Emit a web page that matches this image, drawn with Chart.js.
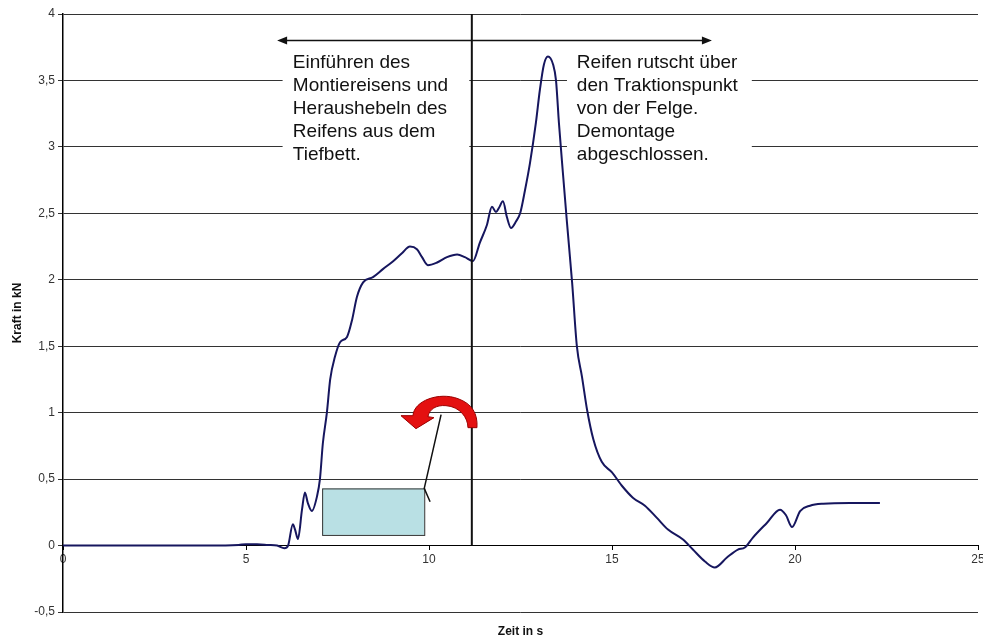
<!DOCTYPE html>
<html>
<head>
<meta charset="utf-8">
<script src="https://cdn.jsdelivr.net/npm/chart.js@4.4.1/dist/chart.umd.min.js"></script>
<style>
    html, body { margin: 0; padding: 0; background: #fff; }
</style>
</head>
<body>
<canvas id="myChart" width="983" height="644"></canvas>
<script>
// Messkurve: Zeit in s / Kraft in kN
const zeit = [0, 1, 2, 3, 4, 4.8, 5.0, 5.3, 5.6, 5.85, 6.05, 6.15, 6.28, 6.34, 6.42, 6.53, 6.61, 6.69, 6.80, 6.94,
    7.02, 7.10, 7.21, 7.30, 7.43, 7.57, 7.76, 7.90, 8.03, 8.20, 8.47, 8.74, 9.02, 9.26, 9.48, 9.67, 9.81, 9.97,
    10.22, 10.49, 10.77, 10.98, 11.20, 11.39, 11.58, 11.72, 11.83, 11.91, 12.02, 12.13, 12.24, 12.38, 12.49,
    12.62, 12.76, 12.92, 13.03, 13.14, 13.25, 13.39, 13.47, 13.55, 13.66, 13.77, 13.91, 14.04, 14.18, 14.32,
    14.49, 14.72, 15.00, 15.27, 15.57, 15.90, 16.22, 16.53, 16.94, 17.21, 17.54, 17.81, 18.14, 18.44, 18.63,
    18.85, 19.23, 19.59, 19.75, 19.92, 20.14, 20.41, 20.77, 21.5, 22.32];
const kraft = [0, 0, 0, 0, 0, 0.005, 0.01, 0.01, 0.005, 0, -0.02, 0.0, 0.16, 0.12, 0.05, 0.27, 0.40, 0.32, 0.26, 0.37,
    0.50, 0.77, 1.00, 1.25, 1.42, 1.53, 1.57, 1.70, 1.87, 1.98, 2.02, 2.08, 2.14, 2.20, 2.25, 2.23, 2.17, 2.11,
    2.13, 2.17, 2.19, 2.17, 2.14, 2.28, 2.41, 2.55, 2.51, 2.54, 2.59, 2.47, 2.39, 2.44, 2.50,
    2.67, 2.88, 3.18, 3.43, 3.62, 3.68, 3.62, 3.50, 3.18, 2.80, 2.43, 1.98, 1.50, 1.27, 1.02,
    0.80, 0.63, 0.55, 0.45, 0.36, 0.30, 0.21, 0.12, 0.045, -0.03, -0.12, -0.165, -0.09, -0.03, -0.015,
    0.06, 0.17, 0.27, 0.23, 0.14, 0.26, 0.30, 0.315, 0.32, 0.32];

const xTicks = [0, 5, 10, 15, 20, 25];
const yTicks = [-0.5, 0, 0.5, 1, 1.5, 2, 2.5, 3, 3.5, 4];

const textLinks = ['Einführen des', 'Montiereisens und', 'Heraushebeln des', 'Reifens aus dem', 'Tiefbett.'];
const textRechts = ['Reifen rutscht über', 'den Traktionspunkt', 'von der Felge.', 'Demontage', 'abgeschlossen.'];

// Annotationen in Datenkoordinaten
const trennZeit = 11.17;
const pfeil = { von: 5.85, bis: 17.73, kraft: 3.80 };
const boxLinks = { x0: 6.0, x1: 11.1, y0: 3.86, y1: 2.9, textX: 6.28 };
const boxRechts = { x0: 13.77, x1: 18.82, y0: 3.86, y1: 2.9, textX: 14.04 };
const textBaseline = 3.594;
const blauBox = { x0: 7.08, x1: 9.87, y0: 0.43, y1: 0.08 };
const zeiger = { x: 10.33, y: 0.985, hx: 10.03, hy: 0.33 };
const rotPfeil = { x: 10.60, y: 1.0 };

const FONT = '"Liberation Sans", Arial, sans-serif';

function fmt(v) {
    return String(v).replace('.', ',');
}

const overlay = {
    id: 'overlay',
    beforeDatasetsDraw(chart) {
        const { ctx, scales: { x, y } } = chart;
        ctx.save();
        // weisse Textfelder
        [boxLinks, boxRechts].forEach(b => {
            ctx.fillStyle = '#fff';
            ctx.fillRect(x.getPixelForValue(b.x0), y.getPixelForValue(b.y0),
                x.getPixelForValue(b.x1) - x.getPixelForValue(b.x0), y.getPixelForValue(b.y1) - y.getPixelForValue(b.y0));
        });
        ctx.fillStyle = '#111';
        ctx.font = '19px ' + FONT;
        ctx.textBaseline = 'alphabetic';
        const by = y.getPixelForValue(textBaseline);
        textLinks.forEach((t, i) => ctx.fillText(t, x.getPixelForValue(boxLinks.textX), by + i * 23));
        textRechts.forEach((t, i) => ctx.fillText(t, x.getPixelForValue(boxRechts.textX), by + i * 23));

        // hellblaue Box
        const bx0 = x.getPixelForValue(blauBox.x0), bx1 = x.getPixelForValue(blauBox.x1);
        const by0 = y.getPixelForValue(blauBox.y0), by1 = y.getPixelForValue(blauBox.y1);
        ctx.fillStyle = '#b9e0e4';
        ctx.fillRect(bx0, by0, bx1 - bx0, by1 - by0);
        ctx.strokeStyle = '#333';
        ctx.lineWidth = 1;
        ctx.strokeRect(bx0 + 0.5, by0 + 0.5, bx1 - bx0, by1 - by0);
        ctx.restore();
    },
    afterDatasetsDraw(chart) {
        const { ctx, scales: { x, y } } = chart;
        ctx.save();
        ctx.strokeStyle = '#111';
        ctx.fillStyle = '#111';

        // Trennlinie
        const tx = x.getPixelForValue(trennZeit);
        ctx.lineWidth = 2;
        ctx.beginPath();
        ctx.moveTo(tx, y.getPixelForValue(4));
        ctx.lineTo(tx, y.getPixelForValue(0));
        ctx.stroke();

        // Doppelpfeil
        const px0 = x.getPixelForValue(pfeil.von), px1 = x.getPixelForValue(pfeil.bis);
        const py = y.getPixelForValue(pfeil.kraft);
        ctx.lineWidth = 1.5;
        ctx.beginPath();
        ctx.moveTo(px0 + 6, py);
        ctx.lineTo(px1 - 6, py);
        ctx.stroke();
        ctx.beginPath();
        ctx.moveTo(px0, py); ctx.lineTo(px0 + 10, py - 4); ctx.lineTo(px0 + 10, py + 4); ctx.closePath();
        ctx.moveTo(px1, py); ctx.lineTo(px1 - 10, py - 4); ctx.lineTo(px1 - 10, py + 4); ctx.closePath();
        ctx.fill();

        // Zeigerlinie der blauen Box
        const zx = x.getPixelForValue(blauBox.x1), zy = y.getPixelForValue(blauBox.y0);
        ctx.lineWidth = 1.5;
        ctx.beginPath();
        ctx.moveTo(x.getPixelForValue(zeiger.x), y.getPixelForValue(zeiger.y));
        ctx.lineTo(zx, zy);
        ctx.lineTo(x.getPixelForValue(zeiger.hx), y.getPixelForValue(zeiger.hy));
        ctx.stroke();

        // roter gebogener Pfeil
        const ax = x.getPixelForValue(rotPfeil.x), ay = y.getPixelForValue(rotPfeil.y);
        ctx.translate(ax, ay);
        ctx.beginPath();
        ctx.moveTo(-38, 3);
        ctx.bezierCurveTo(-37, -12, -12, -21, 7, -14);
        ctx.bezierCurveTo(21, -9, 27, 1, 26, 15);
        ctx.lineTo(17, 15);
        ctx.bezierCurveTo(17, 5, 9, -6, -5, -7);
        ctx.bezierCurveTo(-15, -8, -22, -3, -23, 4);
        ctx.lineTo(-17, 5);
        ctx.lineTo(-35, 16);
        ctx.lineTo(-50, 3);
        ctx.closePath();
        ctx.fillStyle = '#e41010';
        ctx.fill();
        ctx.strokeStyle = '#9a0000';
        ctx.lineWidth = 1;
        ctx.stroke();
        ctx.restore();
    },
    afterDraw(chart) {
        const { ctx, chartArea } = chart;
        ctx.save();
        ctx.fillStyle = '#111';
        ctx.font = 'bold 12px "Liberation Sans Narrow", ' + FONT;
        ctx.textAlign = 'center';
        ctx.textBaseline = 'middle';
        ctx.fillText('Zeit in s', (chartArea.left + chartArea.right) / 2, 632);
        ctx.restore();
    }
};

const ctx = document.getElementById('myChart');
new Chart(ctx, {
    type: 'line',
    data: {
        datasets: [{
            data: zeit.map((t, i) => ({ x: t, y: kraft[i] })),
            borderColor: '#16165e',
            borderWidth: 2,
            pointRadius: 0,
            cubicInterpolationMode: 'monotone',
            fill: false
        }]
    },
    options: {
        responsive: false,
        animation: false,
        layout: { padding: { top: 14, right: 5, bottom: 32, left: 0 } },
        plugins: { legend: { display: false }, tooltip: { enabled: false } },
        scales: {
            x: {
                type: 'linear',
                min: 0,
                max: 25,
                position: { y: 0 },
                afterBuildTicks: s => { s.ticks = xTicks.map(v => ({ value: v })); },
                ticks: { color: '#333', font: { size: 12, family: FONT }, padding: 3, maxRotation: 0 },
                grid: { drawOnChartArea: false, tickLength: 4, color: '#000' },
                border: { color: '#000', width: 1 },
                afterFit: s => { s.height = 0; s.paddingLeft = 0; s.paddingRight = 0; }
            },
            y: {
                min: -0.5,
                max: 4,
                afterBuildTicks: s => { s.ticks = yTicks.map(v => ({ value: v })); },
                ticks: { color: '#333', font: { size: 12, family: FONT }, padding: 3, callback: v => fmt(v) },
                grid: { color: '#333', tickLength: 5 },
                border: { color: '#000', width: 1.5 },
                title: {
                    display: true,
                    text: 'Kraft in kN',
                    color: '#111',
                    font: { size: 12, weight: 'bold', family: '"Liberation Sans Narrow", ' + FONT },
                    padding: { top: 10, bottom: 0 }
                },
                afterFit: s => { s.width = 63; }
            }
        }
    },
    plugins: [overlay]
});
</script>
</body>
</html>
